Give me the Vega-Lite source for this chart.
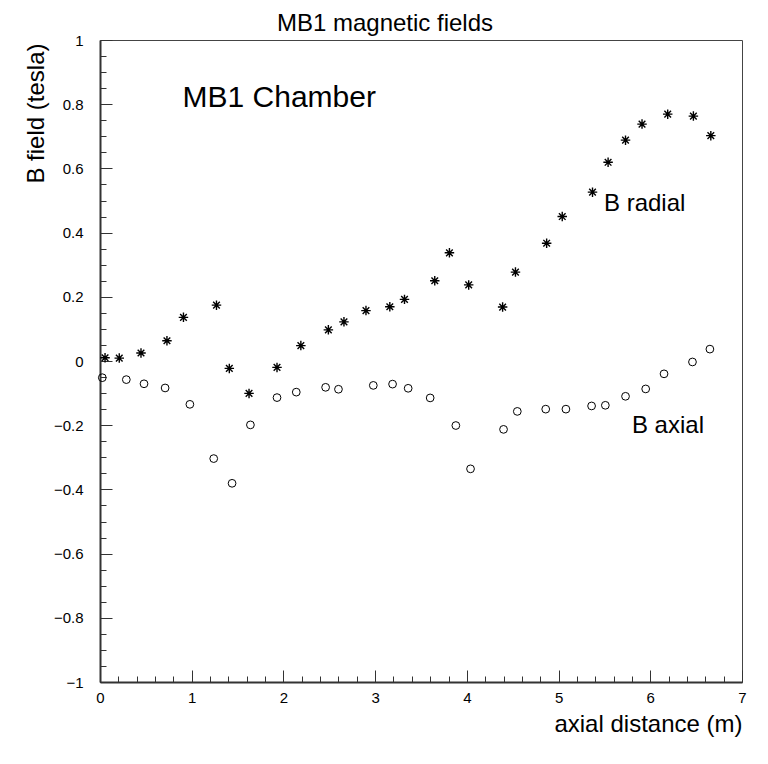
{
  "$schema": "https://vega.github.io/schema/vega-lite/v6.json",
  "width": 642,
  "height": 642,
  "autosize": {"type": "none"},
  "padding": {"left": 100, "top": 40, "right": 26, "bottom": 82},
  "background": "white",
  "title": {"text": "MB1 magnetic fields", "fontSize": 24, "font": "Liberation Sans", "fontWeight": "normal", "color": "black", "anchor": "middle", "offset": 10, "baseline": "alphabetic", "dx": -36, "dy": 32},
  "config": {
    "view": {"stroke": "#444", "strokeWidth": 1},
    "axis": {"grid": false, "labelFont": "Liberation Sans", "labelFontSize": 15, "labelColor": "black", "titleFont": "Liberation Sans", "titleFontWeight": "normal", "titleFontSize": 24, "titleColor": "black", "domainWidth": 2, "domainColor": "#333", "tickColor": "#333", "tickWidth": 1, "labelOverlap": false, "labelFlush": false, "labelBound": false}
  },
  "data": {"values": [
    {"series": "B radial", "x": 0.055, "y": 0.010},
    {"series": "B radial", "x": 0.21, "y": 0.009},
    {"series": "B radial", "x": 0.447, "y": 0.025},
    {"series": "B radial", "x": 0.73, "y": 0.063},
    {"series": "B radial", "x": 0.91, "y": 0.136},
    {"series": "B radial", "x": 1.27, "y": 0.174},
    {"series": "B radial", "x": 1.41, "y": -0.023},
    {"series": "B radial", "x": 1.625, "y": -0.101},
    {"series": "B radial", "x": 1.93, "y": -0.020},
    {"series": "B radial", "x": 2.19, "y": 0.048},
    {"series": "B radial", "x": 2.49, "y": 0.097},
    {"series": "B radial", "x": 2.66, "y": 0.122},
    {"series": "B radial", "x": 2.90, "y": 0.157},
    {"series": "B radial", "x": 3.16, "y": 0.169},
    {"series": "B radial", "x": 3.32, "y": 0.192},
    {"series": "B radial", "x": 3.65, "y": 0.250},
    {"series": "B radial", "x": 3.81, "y": 0.337},
    {"series": "B radial", "x": 4.02, "y": 0.237},
    {"series": "B radial", "x": 4.39, "y": 0.168},
    {"series": "B radial", "x": 4.53, "y": 0.277},
    {"series": "B radial", "x": 4.87, "y": 0.367},
    {"series": "B radial", "x": 5.04, "y": 0.450},
    {"series": "B radial", "x": 5.37, "y": 0.526},
    {"series": "B radial", "x": 5.54, "y": 0.619},
    {"series": "B radial", "x": 5.73, "y": 0.688},
    {"series": "B radial", "x": 5.91, "y": 0.738},
    {"series": "B radial", "x": 6.19, "y": 0.769},
    {"series": "B radial", "x": 6.47, "y": 0.763},
    {"series": "B radial", "x": 6.66, "y": 0.702},
    {"series": "B axial", "x": 0.025, "y": -0.052},
    {"series": "B axial", "x": 0.287, "y": -0.058},
    {"series": "B axial", "x": 0.48, "y": -0.071},
    {"series": "B axial", "x": 0.71, "y": -0.084},
    {"series": "B axial", "x": 0.98, "y": -0.135},
    {"series": "B axial", "x": 1.24, "y": -0.304},
    {"series": "B axial", "x": 1.44, "y": -0.381},
    {"series": "B axial", "x": 1.64, "y": -0.199},
    {"series": "B axial", "x": 1.93, "y": -0.114},
    {"series": "B axial", "x": 2.14, "y": -0.097},
    {"series": "B axial", "x": 2.46, "y": -0.082},
    {"series": "B axial", "x": 2.60, "y": -0.088},
    {"series": "B axial", "x": 2.98, "y": -0.076},
    {"series": "B axial", "x": 3.19, "y": -0.072},
    {"series": "B axial", "x": 3.36, "y": -0.085},
    {"series": "B axial", "x": 3.60, "y": -0.115},
    {"series": "B axial", "x": 3.88, "y": -0.201},
    {"series": "B axial", "x": 4.04, "y": -0.336},
    {"series": "B axial", "x": 4.40, "y": -0.213},
    {"series": "B axial", "x": 4.55, "y": -0.157},
    {"series": "B axial", "x": 4.86, "y": -0.150},
    {"series": "B axial", "x": 5.08, "y": -0.150},
    {"series": "B axial", "x": 5.36, "y": -0.140},
    {"series": "B axial", "x": 5.51, "y": -0.138},
    {"series": "B axial", "x": 5.73, "y": -0.110},
    {"series": "B axial", "x": 5.95, "y": -0.087},
    {"series": "B axial", "x": 6.15, "y": -0.040},
    {"series": "B axial", "x": 6.46, "y": -0.003},
    {"series": "B axial", "x": 6.65, "y": 0.037}
  ]},
  "encoding": {
    "x": {"field": "x", "type": "quantitative", "scale": {"domain": [0, 7], "nice": false, "zero": false},
      "axis": {"values": [0,0.2,0.4,0.6,0.8,1,1.2,1.4,1.6,1.8,2,2.2,2.4,2.6,2.8,3,3.2,3.4,3.6,3.8,4,4.2,4.4,4.6,4.8,5,5.2,5.4,5.6,5.8,6,6.2,6.4,6.6,6.8,7],
        "labelExpr": "abs(datum.value - round(datum.value)) < 0.001 ? format(datum.value, 'd') : ''",
        "tickSize": {"condition": {"test": "abs(datum.value - round(datum.value)) < 0.001", "value": -12}, "value": -6},
        "labelPadding": 20,
        "title": "axial distance (m)", "titleAnchor": null, "titleAlign": "right", "titleX": 642, "titleY": 49.5, "titleBaseline": "alphabetic", "titleAngle": 0}},
    "y": {"field": "y", "type": "quantitative", "scale": {"domain": [-1, 1], "nice": false, "zero": false},
      "axis": {"values": [-1,-0.95,-0.9,-0.85,-0.8,-0.75,-0.7,-0.65,-0.6,-0.55,-0.5,-0.45,-0.4,-0.35,-0.3,-0.25,-0.2,-0.15,-0.1,-0.05,0,0.05,0.1,0.15,0.2,0.25,0.3,0.35,0.4,0.45,0.5,0.55,0.6,0.65,0.7,0.75,0.8,0.85,0.9,0.95,1],
        "labelExpr": "abs(datum.value*5 - round(datum.value*5)) < 0.001 ? format(datum.value, '~g') : ''",
        "tickSize": {"condition": {"test": "abs(datum.value*5 - round(datum.value*5)) < 0.001", "value": -12}, "value": -6},
        "labelPadding": 29,
        "title": "B field (tesla)", "titleAnchor": null, "titleAngle": 270, "titleAlign": "right", "titleX": -57, "titleY": 3, "titleBaseline": "alphabetic"}}
  },
  "layer": [
    {"transform": [{"filter": "datum.series === 'B radial'"}],
     "mark": {"type": "point", "shape": "M-1,0L1,0M0,-1L0,1M-0.7,-0.7L0.7,0.7M-0.7,0.7L0.7,-0.7", "filled": false, "stroke": "black", "strokeWidth": 1.4, "size": 90, "opacity": 1}},
    {"transform": [{"filter": "datum.series === 'B axial'"}],
     "mark": {"type": "point", "shape": "circle", "filled": false, "stroke": "black", "strokeWidth": 1, "size": 60, "opacity": 1}},
    {"data": {"values": [{"x": 0.9, "y": 0.792, "label": "MB1 Chamber"}]},
     "mark": {"type": "text", "align": "left", "baseline": "alphabetic", "font": "Liberation Sans", "fontSize": 30, "color": "black"},
     "encoding": {"text": {"field": "label"}}},
    {"data": {"values": [{"x": 5.495, "y": 0.467, "label": "B radial"}, {"x": 5.8, "y": -0.224, "label": "B axial"}]},
     "mark": {"type": "text", "align": "left", "baseline": "alphabetic", "font": "Liberation Sans", "fontSize": 24, "color": "black"},
     "encoding": {"text": {"field": "label"}}}
  ]
}
